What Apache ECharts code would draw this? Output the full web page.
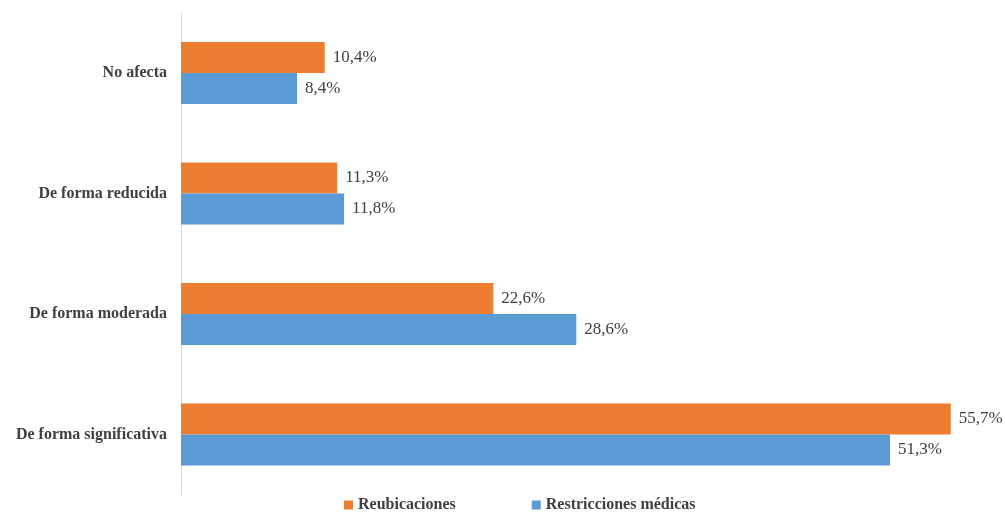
<!DOCTYPE html>
<html>
<head>
<meta charset="utf-8">
<script src="https://cdn.jsdelivr.net/npm/echarts@6/dist/echarts.min.js"></script>
<style>
  html, body { margin: 0; padding: 0; background: #ffffff; }
  #chart { width: 1005px; height: 512px; }
</style>
</head>
<body>
<div id="chart"></div>
<script>
// Categories from top to bottom
const categories = ['No afecta', 'De forma reducida', 'De forma moderada', 'De forma significativa'];
const seriesNames = ['Reubicaciones', 'Restricciones médicas'];
const reubicaciones = [10.4, 11.3, 22.6, 55.7];
const restricciones = [8.4, 11.8, 28.6, 51.3];

const serif = '"Liberation Serif", "Times New Roman", serif';
const fmt = p => p.value.toFixed(1).replace('.', ',') + '%';

const chart = echarts.init(document.getElementById('chart'), null, { renderer: 'canvas' });

const labelStyle = {
  show: true,
  position: 'right',
  distance: 8,
  formatter: fmt,
  fontFamily: serif,
  fontSize: 17,
  color: '#404040'
};

chart.setOption({
  animation: false,
  color: ['#ED7D31', '#5B9BD5'],
  grid: { left: 181, right: 21, top: 12.75, bottom: 17.25, containLabel: false },
  legend: {
    data: seriesNames,
    left: 339,
    top: 492,
    itemWidth: 9,
    itemHeight: 9,
    itemGap: 76,
    icon: 'rect',
    textStyle: { fontFamily: serif, fontSize: 16, fontWeight: 'bold', color: '#404040' }
  },
  xAxis: {
    type: 'value',
    min: 0,
    max: 58.1,
    show: false
  },
  yAxis: {
    type: 'category',
    data: categories,
    inverse: true,
    axisLine: { show: true, lineStyle: { color: '#d9d9d9', width: 1 } },
    axisTick: { show: false },
    axisLabel: {
      margin: 14,
      fontFamily: serif,
      fontSize: 16,
      fontWeight: 'bold',
      color: '#404040'
    }
  },
  series: [
    {
      name: seriesNames[0],
      type: 'bar',
      data: reubicaciones,
      barWidth: 31,
      barGap: '0%',
      label: labelStyle
    },
    {
      name: seriesNames[1],
      type: 'bar',
      data: restricciones,
      barWidth: 31,
      barGap: '0%',
      label: labelStyle
    }
  ]
});
</script>
</body>
</html>
